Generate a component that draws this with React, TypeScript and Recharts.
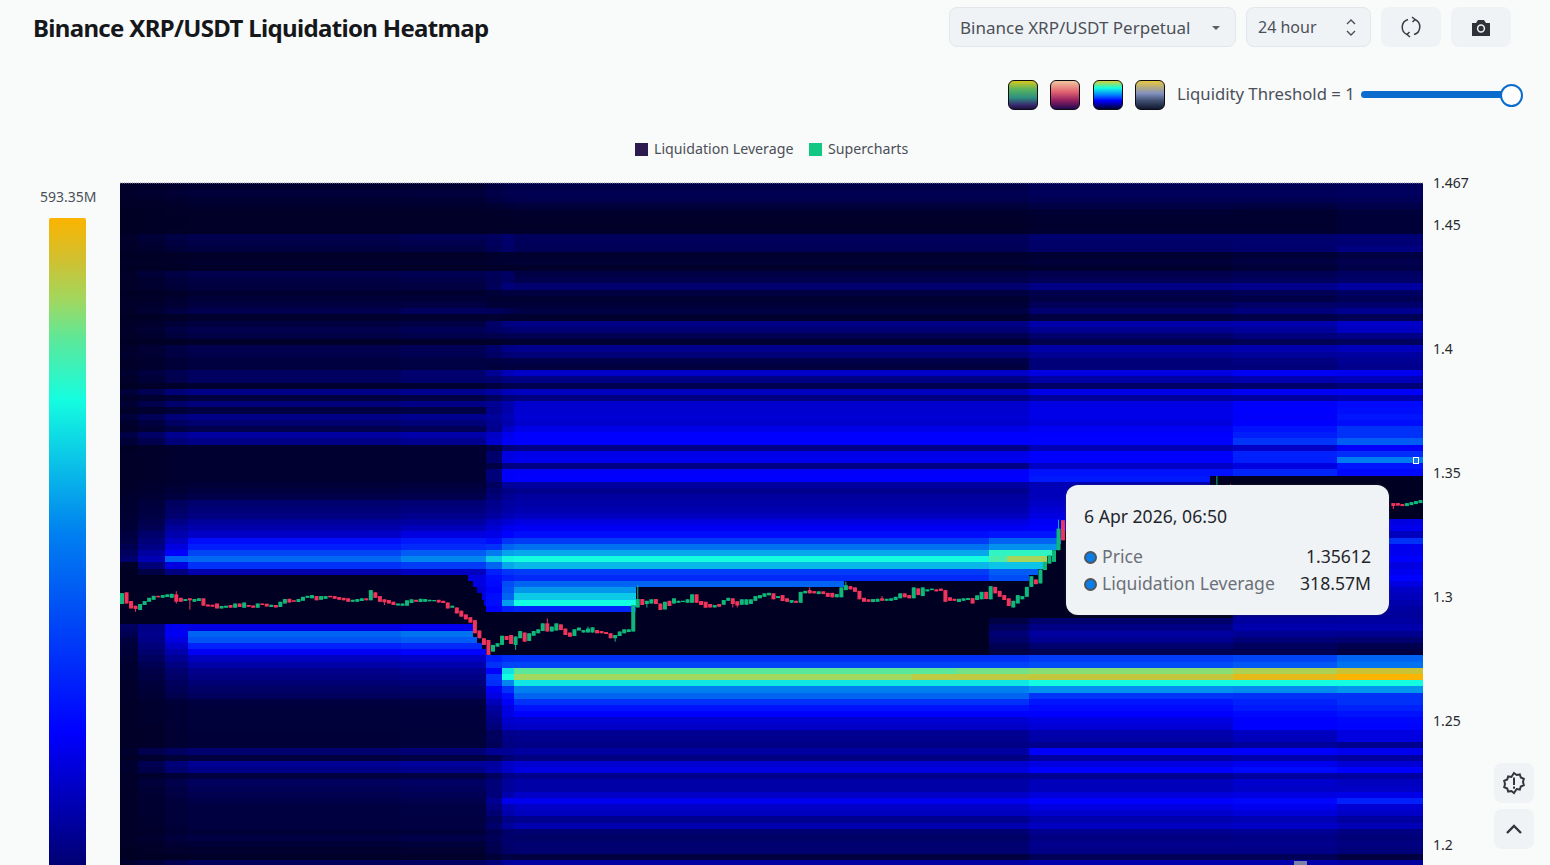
import { ComposedChart, Bar, XAxis, YAxis, ReferenceArea, ReferenceLine, CartesianGrid } from 'recharts';

const FONT = '"Noto Sans", sans-serif';

// price axis
const priceTicks = [1.467, 1.45, 1.4, 1.35, 1.3, 1.25, 1.2];
const priceTop = 1.467;
const priceBottom = 1.1875;
const firstBandTop = 1.4665;
const bandStep = 0.0025;
const slotCount = 288; // 5 minute candles over 24 hours
const maxLeverage = 593.35;

// time slots where the heatmap columns change
const columnEdges = [0, 4, 10, 15, 62, 81, 84.5, 87, 201, 246, 269, 288];

// heatmap values in millions, one entry per price band from the top down
const col120 = [
  8, 10, 8, 8, 5, 5, 5, 5, 10, 10,
  8, 5, 8, 5, 10, 8, 8, 5, 8, 10,
  8, 5, 8, 10, 8, 5, 10, 12, 8, 8,
  14, 10, 5, 22, 10, 18, 8, 22, 12, 10,
  30, 20, 5, 8, 8, 8, 8, 8, 8, 10,
  12, 14, 14, 16, 18, 20, 26, 30, 40, 50,
  62, 8, 5, 3, 3, 3, 3, 3, 3, 3,
  3, 50, 40, 26, 22, 20, 16, 14, 12, 12,
  10, 10, 10, 8, 8, 8, 8, 8, 8, 8,
  8, 12, 8, 14, 12, 8, 10, 8, 8, 8,
  8, 8, 8, 8, 8, 8, 8, 5, 5, 12,
];
const col138 = [
  10, 14, 10, 8, 6, 6, 6, 6, 20, 16,
  12, 6, 8, 6, 20, 14, 12, 6, 8, 12,
  16, 6, 12, 16, 12, 6, 18, 16, 12, 12,
  26, 20, 8, 40, 14, 36, 12, 44, 26, 18,
  55, 38, 8, 10, 10, 10, 10, 10, 12, 14,
  18, 24, 26, 30, 36, 42, 60, 70, 80, 100,
  115, 70, 30, 3, 3, 3, 3, 3, 3, 3,
  3, 80, 85, 80, 70, 62, 50, 40, 32, 28,
  24, 20, 18, 12, 12, 12, 12, 10, 10, 10,
  10, 36, 12, 40, 34, 12, 22, 18, 16, 14,
  14, 14, 12, 12, 10, 14, 10, 8, 5, 24,
];
const col165 = [
  12, 18, 12, 10, 8, 7, 7, 8, 30, 26,
  20, 8, 10, 7, 30, 24, 20, 10, 14, 18,
  28, 8, 20, 30, 24, 7, 30, 28, 20, 20,
  40, 38, 10, 70, 20, 60, 20, 70, 52, 30,
  88, 70, 12, 12, 12, 12, 12, 12, 16, 20,
  26, 50, 56, 62, 80, 95, 110, 130, 150, 173,
  295, 150, 75, 3, 3, 3, 3, 3, 3, 3,
  3, 160, 165, 150, 130, 110, 90, 75, 62, 55,
  48, 42, 36, 20, 18, 18, 18, 18, 16, 16,
  16, 50, 20, 70, 62, 20, 36, 30, 28, 24,
  22, 22, 22, 20, 18, 24, 18, 12, 7, 38,
];
const col189 = [
  14, 22, 16, 12, 8, 8, 8, 8, 38, 32,
  26, 8, 12, 8, 36, 30, 26, 14, 20, 26,
  38, 12, 26, 38, 30, 8, 38, 34, 26, 26,
  51, 51, 14, 80, 26, 72, 26, 80, 62, 38,
  100, 80, 14, 14, 14, 14, 14, 14, 20, 26,
  34, 62, 70, 75, 95, 110, 130, 190, 210, 260,
  305, 235, 110, 3, 3, 3, 3, 3, 3, 3,
  3, 149, 300, 280, 215, 165, 124, 105, 85, 75,
  66, 55, 48, 26, 22, 22, 22, 22, 20, 20,
  20, 62, 26, 90, 80, 26, 50, 44, 38, 32,
  26, 26, 26, 26, 20, 30, 20, 14, 8, 48,
];
const col401 = [
  16, 24, 18, 12, 8, 8, 8, 8, 44, 38,
  30, 9, 12, 8, 40, 34, 28, 14, 20, 28,
  50, 14, 30, 44, 34, 9, 44, 40, 30, 30,
  62, 60, 16, 88, 30, 80, 30, 88, 70, 44,
  108, 88, 16, 16, 16, 16, 16, 16, 24, 30,
  38, 66, 74, 85, 100, 120, 150, 205, 225, 290,
  340, 250, 125, 3, 3, 3, 3, 3, 3, 3,
  3, 160, 320, 290, 225, 175, 130, 110, 90, 80,
  70, 58, 50, 28, 24, 24, 24, 24, 22, 22,
  22, 66, 30, 95, 85, 28, 54, 48, 42, 36,
  30, 30, 28, 28, 22, 34, 22, 16, 9, 54,
];
const col485 = [
  26, 32, 26, 16, 9, 8, 8, 9, 50, 48,
  44, 12, 14, 9, 46, 44, 46, 20, 16, 20,
  46, 16, 56, 54, 36, 10, 60, 54, 30, 24,
  90, 65, 26, 100, 50, 90, 85, 95, 90, 85,
  130, 135, 30, 60, 60, 30, 70, 70, 50, 60,
  70, 85, 90, 100, 125, 140, 155, 190, 235, 330,
  400, 300, 210, 190, 185, 175, 190, 190, 175, 3,
  3, 173, 173, 173, 190, 173, 210, 235, 173, 240,
  230, 165, 150, 120, 100, 90, 80, 70, 50, 50,
  45, 90, 40, 100, 105, 50, 70, 70, 70, 90,
  75, 65, 50, 60, 40, 45, 40, 35, 20, 70,
];
const col500 = [
  32, 38, 34, 20, 10, 9, 8, 9, 60, 60,
  55, 14, 16, 9, 54, 52, 70, 26, 16, 20,
  40, 14, 76, 60, 40, 14, 80, 66, 32, 26,
  120, 78, 36, 120, 70, 110, 110, 115, 110, 130,
  160, 165, 70, 150, 150, 75, 168, 168, 95, 80,
  90, 100, 105, 115, 140, 160, 175, 240, 300, 365,
  440, 370, 240, 215, 270, 280, 300, 360, 210, 3,
  3, 3, 3, 3, 3, 3, 230, 260, 420, 445,
  340, 235, 190, 170, 150, 150, 135, 125, 85, 80,
  75, 90, 65, 130, 130, 80, 95, 95, 110, 160,
  115, 110, 80, 95, 60, 60, 60, 55, 30, 95,
];
const col513 = [
  34, 40, 36, 22, 12, 10, 8, 10, 46, 46,
  44, 14, 18, 10, 30, 36, 62, 26, 16, 20,
  30, 14, 80, 66, 40, 14, 85, 70, 34, 25,
  130, 80, 40, 125, 75, 135, 138, 140, 135, 155,
  172, 173, 80, 155, 160, 80, 170, 172, 100, 87,
  100, 105, 112, 124, 149, 165, 190, 250, 315, 370,
  445, 385, 250, 225, 300, 355, 400, 445, 220, 3,
  3, 3, 3, 3, 3, 3, 235, 260, 494, 526,
  425, 335, 300, 235, 195, 173, 137, 130, 90, 87,
  80, 100, 75, 137, 149, 87, 105, 105, 130, 161,
  130, 124, 87, 112, 63, 55, 63, 63, 26, 100,
];
const col1028 = [
  42, 46, 40, 30, 18, 14, 12, 14, 62, 58,
  55, 16, 22, 14, 38, 44, 80, 36, 30, 45,
  62, 26, 108, 88, 60, 36, 105, 90, 70, 70,
  150, 105, 55, 155, 95, 150, 155, 155, 148, 165,
  173, 175, 115, 173, 173, 130, 195, 205, 115, 120,
  120, 130, 140, 150, 165, 172, 195, 260, 330, 440,
  530, 395, 290, 270, 3, 3, 3, 3, 3, 3,
  60, 80, 100, 87, 62, 40, 250, 270, 515, 550,
  445, 350, 240, 200, 185, 172, 150, 140, 110, 105,
  85, 170, 100, 149, 172, 90, 120, 120, 145, 172,
  150, 135, 110, 125, 85, 75, 85, 80, 45, 110,
];
const col1231 = [
  42, 46, 40, 26, 14, 14, 12, 14, 62, 62,
  60, 20, 28, 20, 42, 50, 85, 42, 32, 55,
  72, 34, 110, 96, 72, 42, 110, 95, 76, 70,
  165, 112, 60, 165, 100, 170, 172, 170, 172, 195,
  210, 240, 130, 215, 210, 150, 220, 3, 3, 3,
  3, 3, 3, 3, 160, 165, 150, 215, 165, 170,
  170, 165, 150, 140, 130, 120, 110, 100, 95, 90,
  100, 110, 90, 70, 50, 40, 260, 285, 535, 575,
  445, 345, 235, 215, 205, 185, 172, 172, 125, 120,
  95, 172, 110, 160, 185, 100, 135, 130, 150, 180,
  160, 145, 115, 130, 90, 80, 85, 80, 45, 110,
];
const col1335 = [
  46, 50, 44, 34, 22, 20, 20, 20, 66, 66,
  75, 28, 38, 32, 52, 58, 100, 52, 44, 60,
  88, 42, 130, 125, 80, 50, 120, 100, 90, 85,
  160, 120, 70, 170, 110, 185, 190, 200, 190, 235,
  235, 290, 170, 230, 330, 200, 185, 3, 3, 3,
  3, 3, 3, 3, 149, 161, 124, 235, 161, 161,
  173, 150, 160, 175, 150, 130, 120, 110, 100, 95,
  100, 110, 87, 63, 38, 26, 300, 320, 555, 593,
  445, 355, 235, 235, 215, 195, 180, 178, 150, 150,
  87, 161, 100, 140, 173, 100, 124, 130, 155, 215,
  140, 130, 100, 118, 75, 70, 75, 70, 26, 100,
];
const heatColumns = [col120, col138, col165, col189, col401, col485, col500, col513, col1028, col1231, col1335];

// local changes painted over the columns: the empty zone around the price and the hot spots
const patchBand = [
  63, 64, 65, 66, 67,
  63, 64, 65, 66, 67, 68, 69, 70,
  71, 72, 73, 74, 75,
  69, 65, 66, 67, 68, 64, 63, 62, 61, 60, 59, 58, 57, 56,
  47, 48, 49, 50, 51, 52, 53,
  60, 60, 59, 58, 57, 61, 62, 63, 56,
  79, 78,
  70, 71, 72, 73, 74, 75,
];
const patchFrom = [
  77, 78, 79, 80, 80.5,
  0, 0, 0, 0, 0, 0, 0, 0,
  78, 78, 79, 80, 81,
  0, 114, 114, 114, 114, 160, 201, 203, 204, 205, 206, 207, 208, 208,
  241, 241, 241, 241, 241, 241, 241,
  192, 196, 192, 192, 192, 192, 192, 192, 192,
  175, 185,
  192, 192, 192, 192, 192, 192,
];
const patchTo = [
  81, 81, 81, 81, 81,
  77, 78, 79, 80, 80.5, 81, 209, 192,
  87, 87, 87, 87, 87,
  209, 209, 209, 209, 209, 209, 209, 209, 209, 209, 209, 209, 209, 209,
  288, 288, 288, 288, 288, 288, 288,
  196, 205, 206, 207, 208, 204, 203, 201, 208,
  201, 201,
  201, 201, 201, 201, 201, 201,
];
const patchValue = [
  150, 150, 140, 150, 150,
  3, 3, 3, 3, 3, 3, 3, 3,
  3, 3, 3, 3, 3,
  3, 3, 3, 3, 3, 3, 3, 3, 3, 3, 3, 3, 3, 3,
  3, 3, 3, 3, 3, 3, 3,
  480, 530, 465, 350, 300, 395, 290, 270, 200,
  545, 505,
  30, 50, 68, 58, 40, 30,
];

// candles: side, body top and body bottom
const candleSide = [
  'G', 'R', 'R', 'R', 'G', 'G', 'G', 'G', 'R', 'G',
  'G', 'G', 'R', 'R', 'G', 'R', 'G', 'G', 'R', 'R',
  'R', 'R', 'G', 'G', 'R', 'G', 'R', 'G', 'R', 'R',
  'G', 'R', 'R', 'G', 'R', 'G', 'G', 'R', 'R', 'G',
  'G', 'G', 'G', 'R', 'G', 'G', 'R', 'R', 'R', 'R',
  'R', 'G', 'G', 'G', 'R', 'G', 'R', 'R', 'R', 'R',
  'R', 'G', 'G', 'G', 'G', 'R', 'G', 'G', 'G', 'G',
  'R', 'R', 'R', 'G', 'R', 'R', 'R', 'R', 'R', 'R',
  'R', 'R', 'G', 'G', 'G', 'R', 'R', 'G', 'G', 'R',
  'G', 'G', 'G', 'G', 'R', 'G', 'G', 'R', 'R', 'R',
  'G', 'G', 'G', 'G', 'G', 'R', 'R', 'R', 'R', 'G',
  'G', 'G', 'G', 'G', 'G', 'R', 'G', 'G', 'R', 'R',
  'G', 'R', 'G', 'G', 'G', 'G', 'G', 'R', 'R', 'R',
  'R', 'G', 'R', 'G', 'G', 'R', 'R', 'G', 'G', 'G',
  'G', 'G', 'G', 'G', 'R', 'G', 'R', 'R', 'G', 'R',
  'G', 'G', 'R', 'R', 'G', 'R', 'R', 'R', 'G', 'G',
  'G', 'R', 'R', 'R', 'R', 'R', 'G', 'G', 'R', 'G',
  'G', 'G', 'G', 'R', 'R', 'G', 'R', 'G', 'G', 'G',
  'R', 'R', 'R', 'R', 'R', 'G', 'G', 'G', 'R', 'G',
  'G', 'R', 'G', 'R', 'R', 'R', 'R', 'G', 'G', 'G',
  'G', 'G', 'R', 'G', 'G', 'G', 'G', 'G', 'R',
  'G', 'R', 'R', 'R', 'R', 'G', 'G', 'G', 'G',
];
const candleTop = [
  1.3016, 1.3019, 1.2984, 1.2965, 1.2972, 1.2984, 1.2997, 1.3005, 1.3005, 1.3008,
  1.3011, 1.3013, 1.3011, 1.2997, 1.2992, 1.2995, 1.2992, 1.2995, 1.2995, 1.297,
  1.2969, 1.2974, 1.2964, 1.2965, 1.2968, 1.2974, 1.2974, 1.2978, 1.2968, 1.2966,
  1.2974, 1.2974, 1.2973, 1.2969, 1.2968, 1.2981, 1.2992, 1.2993, 1.2987, 1.2992,
  1.3001, 1.3005, 1.3008, 1.3004, 1.3004, 1.3004, 1.3005, 1.3004, 1.3, 1.2997,
  1.2995, 1.2989, 1.2992, 1.2995, 1.2995, 1.3028, 1.3019, 1.3004, 1.2991, 1.2988,
  1.2981, 1.2974, 1.2974, 1.2987, 1.2991, 1.2989, 1.2993, 1.2992, 1.2989, 1.2988,
  1.2989, 1.2985, 1.2978, 1.2965, 1.2958, 1.2945, 1.293, 1.2919, 1.2907, 1.2865,
  1.2834, 1.2827, 1.2807, 1.2814, 1.2844, 1.2843, 1.2847, 1.2841, 1.2863, 1.2857,
  1.2854, 1.2863, 1.287, 1.2894, 1.2894, 1.2881, 1.2894, 1.289, 1.2873, 1.2857,
  1.287, 1.2877, 1.2867, 1.2873, 1.2878, 1.2867, 1.2863, 1.2859, 1.2854, 1.2847,
  1.2861, 1.287, 1.287, 1.2968, 1.2992, 1.2992, 1.2985, 1.2991, 1.2992, 1.2974,
  1.2981, 1.2985, 1.2995, 1.2985, 1.2985, 1.2991, 1.3011, 1.3011, 1.2984, 1.2981,
  1.2972, 1.2968, 1.2972, 1.2988, 1.2997, 1.2995, 1.2983, 1.2991, 1.2991, 1.2991,
  1.3004, 1.3008, 1.3015, 1.3017, 1.3015, 1.3004, 1.3008, 1.2995, 1.2988, 1.2985,
  1.3021, 1.3025, 1.3028, 1.3024, 1.3023, 1.3023, 1.3017, 1.3017, 1.3012, 1.3039,
  1.3048, 1.3044, 1.3039, 1.3025, 1.2997, 1.2991, 1.2992, 1.2993, 1.2995, 1.2993,
  1.2995, 1.3001, 1.3015, 1.3015, 1.3008, 1.3039, 1.3035, 1.3039, 1.3031, 1.3034,
  1.3031, 1.3034, 1.3028, 1.2999, 1.2993, 1.2993, 1.2995, 1.2996, 1.2996, 1.3007,
  1.3021, 1.3021, 1.3044, 1.3041, 1.3025, 1.3008, 1.2995, 1.2985, 1.3008, 1.3004,
  1.3041, 1.3084, 1.3071, 1.3111, 1.3142, 1.3169, 1.3189, 1.3276, 1.331,
  1.344, 1.344, 1.3379, 1.3379, 1.3375, 1.3379, 1.3383, 1.3387, 1.3391,
];
const candleBottom = [
  1.2972, 1.2974, 1.2954, 1.2952, 1.2948, 1.2968, 1.2981, 1.2989, 1.2999, 1.2997,
  1.3, 1.2997, 1.2981, 1.2981, 1.2984, 1.2987, 1.2981, 1.2984, 1.2965, 1.2962,
  1.2961, 1.2954, 1.2954, 1.2957, 1.2957, 1.2957, 1.296, 1.2957, 1.2961, 1.2957,
  1.2957, 1.2968, 1.2962, 1.296, 1.2958, 1.296, 1.2974, 1.2978, 1.2981, 1.298,
  1.2985, 1.2997, 1.2995, 1.2987, 1.2989, 1.2993, 1.2999, 1.2993, 1.2989, 1.2987,
  1.2981, 1.2981, 1.2981, 1.2984, 1.2987, 1.2987, 1.2997, 1.2981, 1.2979, 1.2974,
  1.2968, 1.2966, 1.2965, 1.2965, 1.2976, 1.2981, 1.298, 1.2981, 1.2983, 1.2983,
  1.2978, 1.2976, 1.2954, 1.2957, 1.2934, 1.2921, 1.291, 1.2897, 1.2854, 1.2834,
  1.2807, 1.2767, 1.278, 1.28, 1.2807, 1.2827, 1.2811, 1.2807, 1.2834, 1.282,
  1.2823, 1.2844, 1.2854, 1.2863, 1.2861, 1.2861, 1.2865, 1.2867, 1.2847, 1.284,
  1.2843, 1.2865, 1.2857, 1.2857, 1.2857, 1.2854, 1.2854, 1.2851, 1.2834, 1.2834,
  1.2843, 1.2854, 1.2859, 1.2861, 1.2958, 1.2968, 1.2972, 1.2974, 1.2972, 1.2948,
  1.295, 1.2964, 1.2974, 1.2977, 1.298, 1.2977, 1.2977, 1.2977, 1.2968, 1.2957,
  1.2958, 1.2958, 1.2961, 1.2969, 1.2985, 1.2972, 1.2966, 1.2969, 1.2969, 1.2972,
  1.2985, 1.2995, 1.3001, 1.3007, 1.2991, 1.2996, 1.2984, 1.2981, 1.2977, 1.2977,
  1.2977, 1.3015, 1.3015, 1.3015, 1.3012, 1.3012, 1.3001, 1.2999, 1.2999, 1.2999,
  1.3028, 1.3031, 1.3021, 1.2991, 1.2981, 1.2981, 1.298, 1.2981, 1.2985, 1.2985,
  1.2985, 1.2988, 1.2995, 1.2999, 1.2995, 1.2995, 1.3008, 1.3004, 1.3023, 1.3028,
  1.3023, 1.3025, 1.2981, 1.2985, 1.2985, 1.298, 1.2985, 1.2988, 1.2974, 1.2988,
  1.2991, 1.2992, 1.2991, 1.3015, 1.3001, 1.2988, 1.2964, 1.2958, 1.2974, 1.2991,
  1.3001, 1.3041, 1.3052, 1.3055, 1.3109, 1.3135, 1.3142, 1.3189, 1.3229,
  1.34, 1.341, 1.3367, 1.3369, 1.3367, 1.3367, 1.3371, 1.3375, 1.3379,
];
// candles after slot 208 sit behind the tooltip, only these ones show
const laterSlots = [242, 245, 281, 282, 283, 284, 285, 286, 287];

const wickSlot = [3, 12, 15, 58, 87, 94, 103, 109, 114, 116, 135, 136, 152, 160, 168, 207, 242, 245, 281];
const wickHigh = [1.2965, 1.3024, 1.2995, 1.2991, 1.2841, 1.2914, 1.2881, 1.2847, 1.3048, 1.2985, 1.2995, 1.2983, 1.3039, 1.3062, 1.3004, 1.3312, 1.3488, 1.3455, 1.3379];
const wickLow = [1.2941, 1.2974, 1.2949, 1.2968, 1.2787, 1.2861, 1.2857, 1.282, 1.2958, 1.2958, 1.2958, 1.2958, 1.3015, 1.3028, 1.2985, 1.3189, 1.34, 1.341, 1.3355];

const colorStops: [number, number[]][] = [
  [0, [0, 0, 30]],
  [173, [0, 0, 255]],
  [336, [0, 128, 240]],
  [445, [20, 253, 224]],
  [494, [92, 232, 154]],
  [526, [160, 216, 96]],
  [559, [208, 192, 48]],
  [593.35, [251, 180, 0]],
];

function heatColor(v: number) {
  for (let i = 1; i < colorStops.length; i++) {
    const [hi, c1] = colorStops[i];
    if (v <= hi) {
      const [lo, c0] = colorStops[i - 1];
      const t = (v - lo) / (hi - lo);
      return `rgb(${c0.map((c, k) => Math.round(c + (c1[k] - c) * t)).join(',')})`;
    }
  }
  return 'rgb(251,180,0)';
}

const bandEdge = (band: number) => (band === 0 ? priceTop : firstBandTop - band * bandStep);

const cells: { key: string; x1: number; x2: number; y1: number; y2: number; fill: string }[] = [];
heatColumns.forEach((col, c) => {
  col.forEach((v, band) => {
    cells.push({
      key: `c${c}-${band}`,
      x1: columnEdges[c],
      x2: columnEdges[c + 1],
      y1: bandEdge(band + 1),
      y2: bandEdge(band),
      fill: heatColor(v),
    });
  });
});
patchBand.forEach((band, i) => {
  cells.push({
    key: `p${i}`,
    x1: patchFrom[i],
    x2: patchTo[i],
    y1: bandEdge(band + 1),
    y2: bandEdge(band),
    fill: heatColor(patchValue[i]),
  });
});

const candles = candleTop.map((top, i) => {
  const slot = i < 209 ? i : laterSlots[i - 209];
  const w = wickSlot.indexOf(slot);
  const bottom = candleBottom[i];
  const high = w >= 0 ? wickHigh[w] : top;
  const low = w >= 0 ? wickLow[w] : bottom;
  return { slot: slot + 0.5, range: [low, high], high, low, top, bottom, up: candleSide[i] === 'G' };
});

// faint lattice over the heatmap
const gridSlots = Array.from({ length: 118 }, (_, i) => i * 2.44);
const gridPrices = Array.from({ length: 56 }, (_, i) => firstBandTop - i * 2 * bandStep);

function CandleShape(props: any) {
  const { x, y, width, height, payload } = props;
  const { high, low, top, bottom, up } = payload;
  const perPrice = height / (high - low);
  const color = up ? '#0fb87a' : '#f0355c';
  const bodyY = y + (high - top) * perPrice;
  const bodyH = Math.max((top - bottom) * perPrice, 1);
  return (
    <g>
      <rect x={x + width / 2 - 0.5} y={y} width={1} height={height} fill={color} />
      <rect x={x} y={bodyY} width={width} height={bodyH} fill={color} />
    </g>
  );
}

const boxStyle: React.CSSProperties = {
  position: 'absolute',
  top: 7,
  height: 40,
  boxSizing: 'border-box',
  background: '#f0f3f6',
  borderRadius: 8,
  display: 'flex',
  alignItems: 'center',
  justifyContent: 'center',
};

const swatches = [
  { left: 1008, bg: 'linear-gradient(#d9c81e 0%, #58b35f 30%, #2c8f80 60%, #3a2a70 85%, #1d1040 100%)' },
  { left: 1050, bg: 'linear-gradient(#f0c8a0 0%, #e06070 40%, #902060 70%, #200a50 100%)' },
  { left: 1093, bg: 'linear-gradient(#d8d030 0%, #14fde0 25%, #0080ff 50%, #0000ff 70%, #000030 100%)' },
  { left: 1135, bg: 'linear-gradient(#e8c840 0%, #8090c0 45%, #405070 70%, #101830 100%)' },
];

const barGradient = `linear-gradient(to top, ${colorStops
  .map(([v, c]) => `rgb(${c.join(',')}) ${(v / maxLeverage) * 100}%`)
  .join(', ')})`;

const grey = '#4b5058';

function Text({ x, y, size = 15, color = grey, weight = 400, spacing = 0, children, right }: any) {
  return (
    <div
      style={{
        position: 'absolute',
        left: right ? undefined : x,
        right: right ? 1550 - x : undefined,
        top: y,
        transform: 'translateY(-50%)',
        fontSize: size,
        color,
        fontWeight: weight,
        letterSpacing: spacing,
        whiteSpace: 'nowrap',
        lineHeight: 1,
      }}
    >
      {children}
    </div>
  );
}

export default function App() {
  return (
    <div
      style={{
        position: 'absolute',
        left: 0,
        top: 0,
        width: 1550,
        height: 865,
        overflow: 'hidden',
        background: '#f9fafa',
        fontFamily: FONT,
      }}
    >
      <Text x={33} y={28} size={24} color="#15171a" weight={700} spacing={-0.67}>
        Binance XRP/USDT Liquidation Heatmap
      </Text>

      <div style={{ ...boxStyle, left: 949, width: 287, border: '1px solid #e3e6ea' }} />
      <Text x={960} y={27} size={17}>Binance XRP/USDT Perpetual</Text>
      <svg style={{ position: 'absolute', left: 1211, top: 25 }} width={11} height={6}>
        <path d="M1 1h8l-4 4z" fill="#5a5f66" />
      </svg>
      <div style={{ ...boxStyle, left: 1246, width: 125, border: '1px solid #e3e6ea' }} />
      <Text x={1258} y={27} size={16}>24 hour</Text>
      <svg style={{ position: 'absolute', left: 1345, top: 17 }} width={12} height={22} fill="none" stroke="#4b5058" strokeWidth={1.4}>
        <path d="M2 7l4-4 4 4M2 14l4 4 4-4" />
      </svg>
      <div style={{ ...boxStyle, left: 1381, width: 60 }}>
        <svg width={22} height={22} viewBox="0 0 22 22" fill="none" stroke="#3a3e44" strokeWidth={1.5}>
          <path d="M8 3.5a8 8 0 0 0-1 15M14 18.5a8 8 0 0 0 1-15" />
          <path d="M12 1l3 2.5-2.5 2.5M10 21l-3-2.5 2.5-2.5" />
        </svg>
      </div>
      <div style={{ ...boxStyle, left: 1451, width: 60 }}>
        <svg width={20} height={17} viewBox="0 0 20 17">
          <path d="M1 4h4l2-3h6l2 3h4v13H1z" fill="#2f3338" />
          <circle cx={10} cy={9.5} r={3.4} fill="none" stroke="#f0f3f6" strokeWidth={1.5} />
        </svg>
      </div>

      {swatches.map((s) => (
        <div
          key={s.left}
          style={{
            position: 'absolute',
            left: s.left,
            top: 80,
            width: 30,
            height: 30,
            boxSizing: 'border-box',
            borderRadius: 6,
            border: '1px solid #0c0c12',
            background: s.bg,
          }}
        />
      ))}
      <Text x={1177} y={94} size={16.7}>Liquidity Threshold = 1</Text>
      <div style={{ position: 'absolute', left: 1361, top: 91, width: 150, height: 7, borderRadius: 4, background: '#0a6ccc' }} />
      <div
        style={{
          position: 'absolute',
          left: 1500,
          top: 84,
          width: 23,
          height: 23,
          boxSizing: 'border-box',
          borderRadius: '50%',
          background: '#fff',
          border: '2px solid #0a6ccc',
        }}
      />

      <div style={{ position: 'absolute', left: 635, top: 143, width: 13, height: 13, background: '#2d1a4f' }} />
      <Text x={654} y={149} size={14.2}>Liquidation Leverage</Text>
      <div style={{ position: 'absolute', left: 809, top: 143, width: 13, height: 13, background: '#12c683' }} />
      <Text x={828} y={149} size={14.2}>Supercharts</Text>

      <Text x={40} y={197} size={14}>593.35M</Text>
      <div style={{ position: 'absolute', left: 49, top: 218, width: 37, height: 727, borderRadius: 2, background: barGradient }} />

      <ComposedChart
        width={1550}
        height={900}
        data={candles}
        margin={{ top: 183, right: 0, bottom: 24, left: 120 }}
        style={{ position: 'absolute', left: 0, top: 0 }}
      >
        <XAxis type="number" dataKey="slot" domain={[0, slotCount]} hide />
        <YAxis
          orientation="right"
          type="number"
          width={127}
          domain={[priceBottom, priceTop]}
          ticks={priceTicks}
          interval={0}
          axisLine={false}
          tickLine={false}
          tickMargin={4}
          tick={{ fill: '#26292e', fontSize: 14, fontFamily: FONT }}
          allowDataOverflow
        />
        {cells.map((c) => (
          <ReferenceArea
            key={c.key}
            x1={c.x1}
            x2={c.x2}
            y1={c.y1}
            y2={c.y2}
            fill={c.fill}
            fillOpacity={1}
            stroke="none"
            ifOverflow="visible"
            shapeRendering="crispEdges"
          />
        ))}
        <CartesianGrid
          stroke="#8a8ad0"
          strokeOpacity={0.07}
          verticalValues={gridSlots}
          horizontalValues={gridPrices}
        />
        <ReferenceLine y={priceTop} stroke="#9a9ab0" strokeDasharray="1 1" ifOverflow="visible" />
        <Bar dataKey="range" barSize={4} shape={CandleShape} isAnimationActive={false} />
      </ComposedChart>

      <div
        style={{
          position: 'absolute',
          left: 1413,
          top: 457,
          width: 6,
          height: 7,
          boxSizing: 'border-box',
          border: '1.5px solid #fff',
          background: '#1a78e8',
        }}
      />
      <div style={{ position: 'absolute', left: 1294, top: 861, width: 13, height: 4, background: '#7a80a8' }} />

      <div
        style={{
          position: 'absolute',
          left: 1066,
          top: 485,
          width: 323,
          height: 130,
          boxSizing: 'border-box',
          borderRadius: 12,
          background: '#f0f3f6',
          boxShadow: '0 0 3px rgba(60,60,70,0.5)',
        }}
      />
      <Text x={1084} y={517} size={17.6} color="#23262b">6 Apr 2026, 06:50</Text>
      <div style={{ position: 'absolute', left: 1084, top: 551, width: 13, height: 13, boxSizing: 'border-box', borderRadius: '50%', background: '#0a7de6', border: '2px solid #50555c' }} />
      <Text x={1102} y={556.5} size={17.6} color="#6b7078">Price</Text>
      <Text x={1371} y={556.5} size={17.6} color="#23262b" right>1.35612</Text>
      <div style={{ position: 'absolute', left: 1084, top: 578, width: 13, height: 13, boxSizing: 'border-box', borderRadius: '50%', background: '#0a7de6', border: '2px solid #50555c' }} />
      <Text x={1102} y={583.5} size={17.6} color="#6b7078">Liquidation Leverage</Text>
      <Text x={1371} y={583.5} size={17.6} color="#23262b" right>318.57M</Text>

      <div style={{ ...boxStyle, left: 1494, top: 763, width: 40, height: 40 }}>
        <svg width={24} height={24} viewBox="0 0 24 24" fill="none" stroke="#33373c" strokeWidth={2}>
          <path d="M12 2l2.6 2 3.2-.6 1 3.1 3 1.4-.8 3.1.8 3.1-3 1.4-1 3.1-3.2-.6L12 22l-2.6-2-3.2.6-1-3.1-3-1.4.8-3.1-.8-3.1 3-1.4 1-3.1 3.2.6z" />
          <rect x={11} y={6.5} width={2} height={7.5} fill="#33373c" stroke="none" />
          <rect x={11} y={15.5} width={2} height={2.2} fill="#33373c" stroke="none" />
        </svg>
      </div>
      <div style={{ ...boxStyle, left: 1494, top: 809, width: 40, height: 40 }}>
        <svg width={18} height={12} viewBox="0 0 18 12" fill="none" stroke="#33373c" strokeWidth={2.4}>
          <path d="M2 10l7-7 7 7" />
        </svg>
      </div>
    </div>
  );
}
